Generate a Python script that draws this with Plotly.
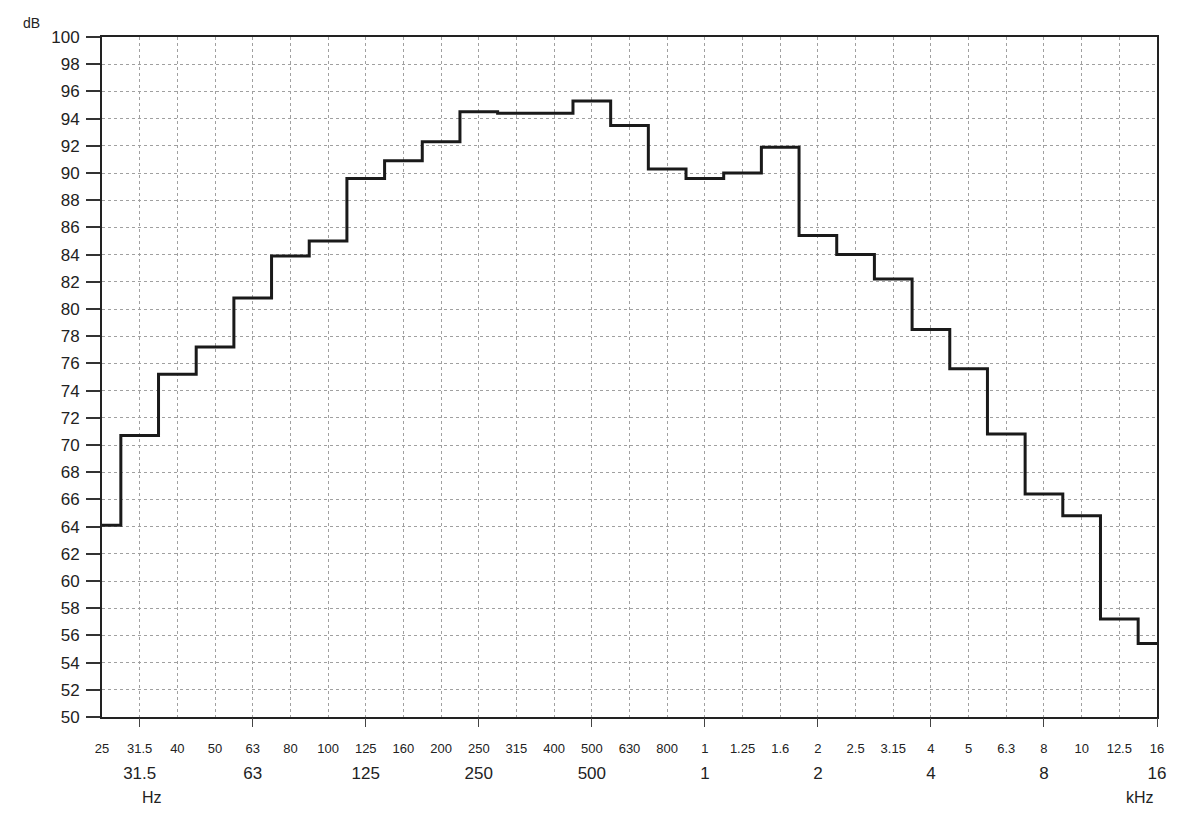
import plotly.graph_objects as go

# Third-octave band centre labels (Hz up to 800, then kHz)
band_labels = ["25", "31.5", "40", "50", "63", "80", "100", "125", "160", "200",
               "250", "315", "400", "500", "630", "800", "1", "1.25", "1.6", "2",
               "2.5", "3.15", "4", "5", "6.3", "8", "10", "12.5", "16"]
# Sound pressure level per band (dB)
levels_db = [64.1, 70.7, 75.2, 77.2, 80.8, 83.9, 85.0, 89.6, 90.9, 92.3,
             94.5, 94.4, 94.4, 95.3, 93.5, 90.3, 89.6, 90.0, 91.9, 85.4,
             84.0, 82.2, 78.5, 75.6, 70.8, 66.4, 64.8, 57.2, 55.4]
# Octave band labels (second row)
octave_labels = ["31.5", "63", "125", "250", "500", "1", "2", "4", "8", "16"]
y_ticks = list(range(50, 101, 2))

positions = list(range(len(band_labels)))
octave_positions = [band_labels.index(lbl) for lbl in octave_labels]

FONT = "Liberation Sans, Arial, sans-serif"

fig = go.Figure()
fig.add_trace(go.Scatter(
    x=positions, y=levels_db, mode="lines",
    line=dict(shape="hvh", color="#1a1a1a", width=3),
    hoverinfo="skip", showlegend=False,
))
# invisible trace to activate overlay axis
fig.add_trace(go.Scatter(
    x=octave_positions, y=[levels_db[p] for p in octave_positions],
    xaxis="x2", mode="lines", line=dict(width=0), opacity=0,
    hoverinfo="skip", showlegend=False,
))

fig.update_layout(
    width=1183, height=819,
    margin=dict(l=102, r=26, t=37, b=102),
    paper_bgcolor="white", plot_bgcolor="white",
    font=dict(family=FONT, color="#222"),
    xaxis=dict(
        range=[0, len(band_labels) - 1],
        tickmode="array", tickvals=positions, ticktext=band_labels,
        ticks="", tickfont=dict(size=13, color="#222"),
        ticklabelstandoff=19,
        showgrid=True, gridcolor="#a0a0a0", gridwidth=1, griddash="dot",
        showline=True, linecolor="#222", linewidth=1.5, mirror=True,
        zeroline=False,
    ),
    xaxis2=dict(
        overlaying="x", anchor="y", side="bottom",
        range=[0, len(band_labels) - 1],
        tickmode="array", tickvals=octave_positions, ticktext=octave_labels,
        ticks="outside", ticklen=9, tickcolor="#444", tickwidth=1,
        tickfont=dict(size=17, color="#222"),
        ticklabelstandoff=32,
        showgrid=False, showline=False, zeroline=False,
    ),
    yaxis=dict(
        range=[50, 100],
        tickmode="array", tickvals=y_ticks,
        ticks="outside", ticklen=14, tickcolor="#333", tickwidth=1.5,
        tickfont=dict(size=17, color="#222"),
        ticklabelstandoff=3,
        showgrid=True, gridcolor="#a0a0a0", gridwidth=1, griddash="dot",
        showline=True, linecolor="#222", linewidth=2, mirror=True,
        zeroline=False,
    ),
    annotations=[
        dict(text="dB", xref="paper", yref="paper", x=-0.077, y=1.035,
             showarrow=False, font=dict(size=14, color="#222")),
        dict(text="Hz", xref="paper", yref="paper", x=0.036, y=-0.134,
             showarrow=False, font=dict(size=16, color="#222")),
        dict(text="kHz", xref="paper", yref="paper", x=0.999, y=-0.134,
             showarrow=False, font=dict(size=16, color="#222")),
    ],
)

fig.write_html("out.html")
